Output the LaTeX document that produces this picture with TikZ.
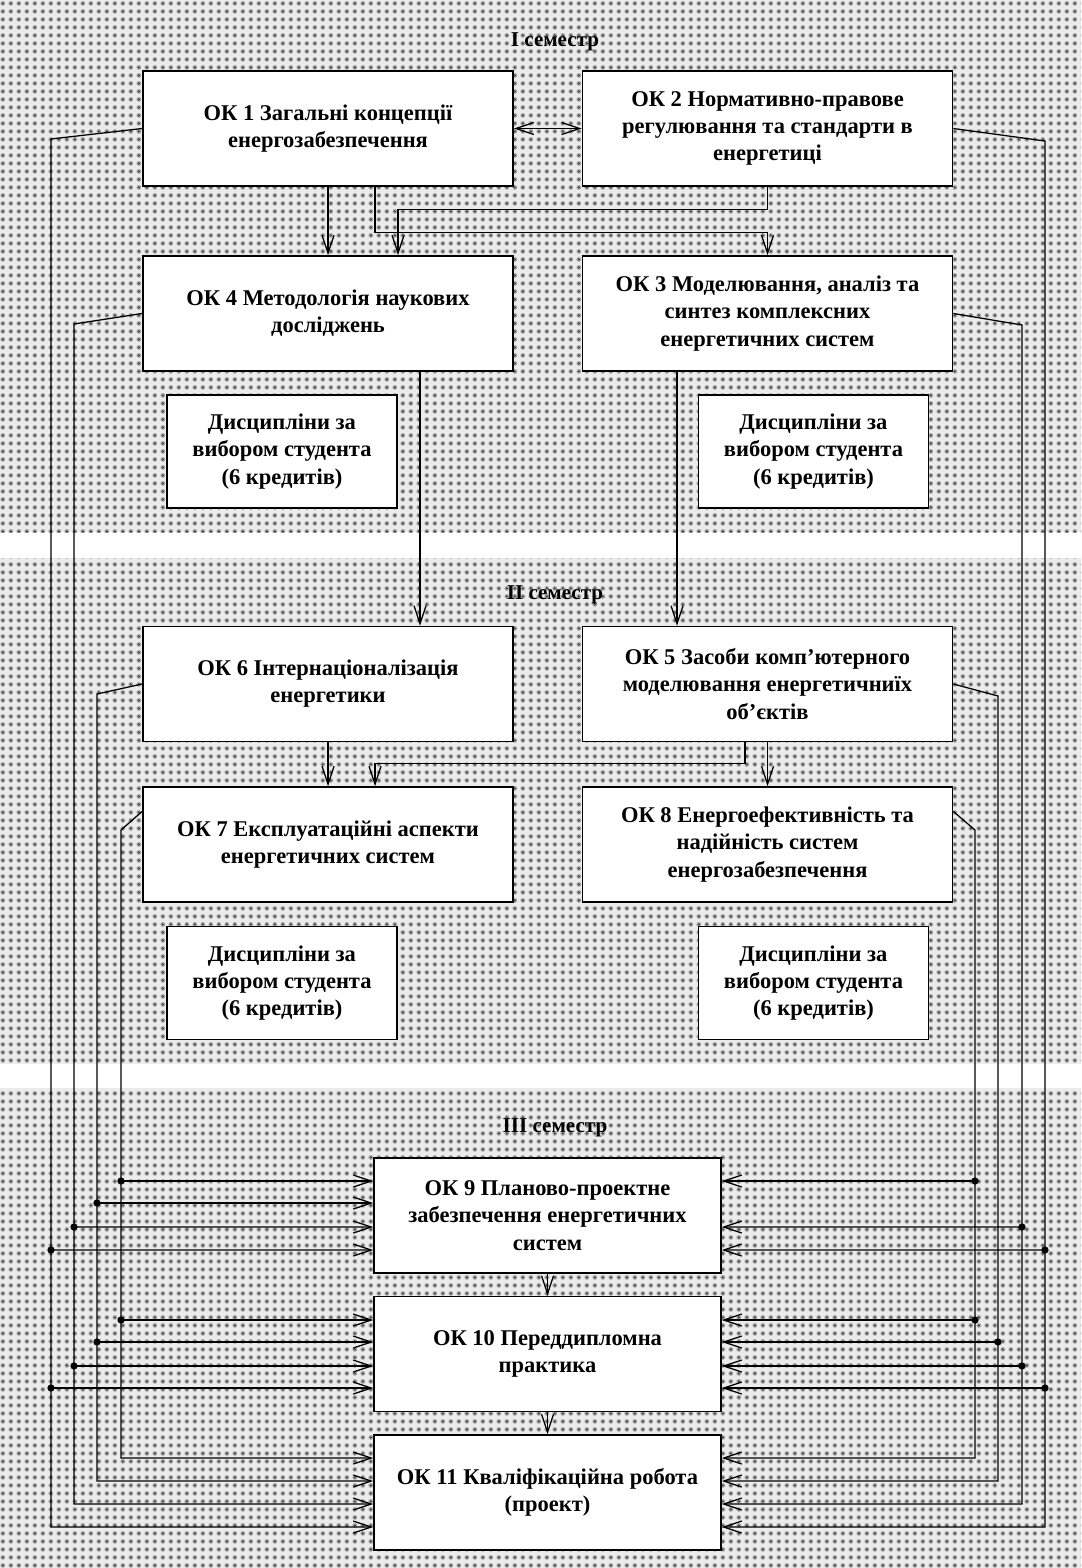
\documentclass[tikz,border=0pt]{standalone}
\usepackage{fontspec}
\setmainfont{Liberation Serif}
\usetikzlibrary{arrows.meta,calc,patterns.meta}

\tikzdeclarepattern{
  name=semdots,
  type=colored,
  bottom left={(0pt,0pt)},
  top right={(5.9pt,5.7pt)},
  tile size={(5.9pt,5.7pt)},
  code={\fill[black!35] (2.95pt,2.85pt) circle (1.9pt);
        \fill[black!70] (2.95pt,2.85pt) circle (1pt);}
}

\tikzset{
  okbox/.style={draw,line width=1.2pt,fill=white,align=center,inner sep=2pt,
    minimum width=9.25cm,minimum height=2.87cm,
    font=\bfseries\fontsize{16}{19.3}\selectfont},
  finbox/.style={okbox,minimum width=8.67cm},
  electbox/.style={okbox,minimum width=5.75cm,minimum height=2.82cm},
  semtitle/.style={font=\bfseries\fontsize{15}{18}\selectfont},
  band/.style={fill=black!8,postaction={pattern=semdots}}
}

\begin{document}
\begin{tikzpicture}[x=0.025cm,y=-0.025cm,line width=0.9pt,
  >={Straight Barb[length=0.45cm,width=0.3cm]}]
  \useasboundingbox (0,0) rectangle (1081,1568);
  \fill[white] (0,0) rectangle (1081,1568);
  % semester bands
  \path[band] (0,0) rectangle (1081,532);
  \path[band] (0,558) rectangle (1081,1064);
  \path[band] (0,1088) rectangle (1081,1568);
  \node[semtitle] (sem1) at (555,42) {I семестр};
  \node[semtitle] (sem2) at (555,595) {II семестр};
  \node[semtitle] (sem3) at (555,1128) {III семестр};

  % I semester
  \node[okbox] (ok1) at (328,128.5) {ОК 1 Загальні концепції\\енергозабезпечення};
  \node[okbox] (ok2) at (767.5,128.5) {ОК 2 Нормативно-правове\\регулювання та стандарти в\\енергетиці};
  \node[okbox] (ok4) at (328,313.5) {ОК 4 Методологія наукових\\досліджень};
  \node[okbox] (ok3) at (767.5,313.5) {ОК 3 Моделювання, аналіз та\\синтез комплексних\\енергетичних систем};
  \node[electbox] (el1) at (282,451.5) {Дисципліни за\\вибором студента\\(6 кредитів)};
  \node[electbox] (el2) at (813.5,451.5) {Дисципліни за\\вибором студента\\(6 кредитів)};

  % II semester
  \node[okbox] (ok6) at (328,684) {ОК 6 Інтернаціоналізація\\енергетики};
  \node[okbox] (ok5) at (767.5,684) {ОК 5 Засоби комп'ютерного\\моделювання енергетичниїх\\об'єктів};
  \node[okbox] (ok7) at (328,844.5) {ОК 7 Експлуатаційні аспекти\\енергетичних систем};
  \node[okbox] (ok8) at (767.5,844.5) {ОК 8 Енергоефективність та\\надійність систем\\енергозабезпечення};
  \node[electbox] (el3) at (282,983) {Дисципліни за\\вибором студента\\(6 кредитів)};
  \node[electbox] (el4) at (813.5,983) {Дисципліни за\\вибором студента\\(6 кредитів)};

  % III semester
  \node[finbox] (ok9) at (547.5,1215.5) {ОК 9 Планово-проектне\\забезпечення енергетичних\\систем};
  \node[finbox] (ok10) at (547.5,1354) {ОК 10 Переддипломна\\практика};
  \node[finbox] (ok11) at (547.5,1492.5) {ОК 11 Кваліфікаційна робота\\(проект)};

  % links inside the semesters
  \draw[<->] (ok1) -- (ok2);
  \draw[->] (ok1) -- (ok4);
  \draw[->] ($(ok1.south)+(47,0)$) |- ($(ok3.north)+(0,-23)$) -- (ok3.north);
  \draw[->] (ok2.south) |- ($(ok4.north)+(70,-46)$) -- ($(ok4.north)+(70,0)$);
  \draw[->] ($(ok4.south)+(92,0)$) -- ($(ok6.north)+(92,0)$);
  \draw[->] ($(ok3.south)+(-90.5,0)$) -- ($(ok5.north)+(-90.5,0)$);
  \draw[->] (ok6) -- (ok7);
  \draw[->] ($(ok5.south)+(-22.5,0)$) |- ($(ok7.north)+(47,-23)$) -- ($(ok7.north)+(47,0)$);
  \draw[->] (ok5) -- (ok8);
  \draw[->] (ok9) -- (ok10);
  \draw[->] (ok10) -- (ok11);

  % left buses to OK 9, 10, 11
  \draw[->] (ok1.west) -- (51,139) |- ($(ok11.west)+(0,34.5)$);
  \draw[->] (ok4.west) -- (74,324) |- ($(ok11.west)+(0,11.5)$);
  \draw[->] (ok6.west) -- (97,694) |- ($(ok11.west)+(0,-11.5)$);
  \draw[->] ($(ok7.west)+(0,-33)$) -- (121,830) |- ($(ok11.west)+(0,-34.5)$);
  \draw[->] (51,1250) -- ($(ok9.west)+(0,34.5)$);
  \draw[->] (74,1227) -- ($(ok9.west)+(0,11.5)$);
  \draw[->] (97,1203) -- ($(ok9.west)+(0,-12.5)$);
  \draw[->] (121,1181) -- ($(ok9.west)+(0,-34.5)$);
  \draw[->] (51,1388) -- ($(ok10.west)+(0,34)$);
  \draw[->] (74,1366) -- ($(ok10.west)+(0,12)$);
  \draw[->] (97,1342) -- ($(ok10.west)+(0,-12)$);
  \draw[->] (121,1320) -- ($(ok10.west)+(0,-34)$);
  \fill (51,1250) circle (2.6pt) (74,1227) circle (2.6pt)
        (97,1203) circle (2.6pt) (121,1181) circle (2.6pt);
  \fill (51,1388) circle (2.6pt) (74,1366) circle (2.6pt)
        (97,1342) circle (2.6pt) (121,1320) circle (2.6pt);

  % right buses to OK 9, 10, 11
  \draw[->] (ok2.east) -- (1045,141) |- ($(ok11.east)+(0,34.5)$);
  \draw[->] (ok3.east) -- (1022,325) |- ($(ok11.east)+(0,11.5)$);
  \draw[->] (ok5.east) -- (998,696) |- ($(ok11.east)+(0,-11.5)$);
  \draw[->] ($(ok8.east)+(0,-33)$) -- (975,830) |- ($(ok11.east)+(0,-34.5)$);
  \draw[->] (1045,1250) -- ($(ok9.east)+(0,34.5)$);
  \draw[->] (1022,1227) -- ($(ok9.east)+(0,11.5)$);
  \draw[->] (975,1181) -- ($(ok9.east)+(0,-34.5)$);
  \draw[->] (1045,1388) -- ($(ok10.east)+(0,34)$);
  \draw[->] (1022,1366) -- ($(ok10.east)+(0,12)$);
  \draw[->] (998,1342) -- ($(ok10.east)+(0,-12)$);
  \draw[->] (975,1320) -- ($(ok10.east)+(0,-34)$);
  \fill (1045,1250) circle (2.6pt) (1022,1227) circle (2.6pt)
        (975,1181) circle (2.6pt);
  \fill (1045,1388) circle (2.6pt) (1022,1366) circle (2.6pt)
        (998,1342) circle (2.6pt) (975,1320) circle (2.6pt);
\end{tikzpicture}
\end{document}
